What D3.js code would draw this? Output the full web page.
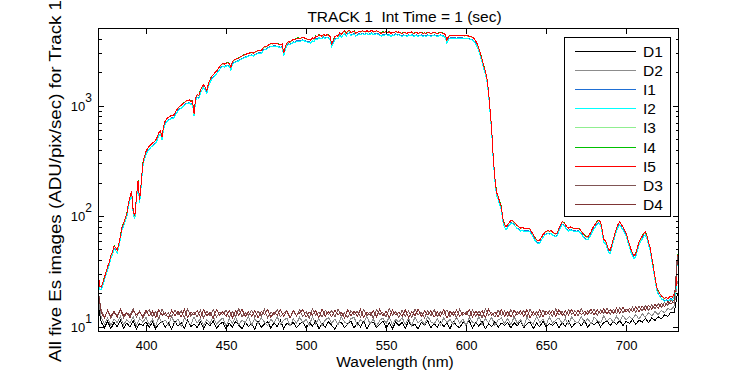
<!DOCTYPE html>
<html><head><meta charset="utf-8">
<script src="https://cdn.jsdelivr.net/npm/d3@7"></script>
<style>
html,body{margin:0;padding:0;background:#fff;}
svg{display:block;font-family:"Liberation Sans",Arial,Helvetica,sans-serif;}
</style></head>
<body><svg id="chart" width="750" height="375"></svg>
<script>
// ---------------- DATA ----------------
const seriesNames = ["D1","D2","I1","I2","I3","I4","I5","D3","D4"];
const xTicks = [400,450,500,550,600,650,700];
const yDecades = [1,2,3];           // 10^1, 10^2, 10^3

// irradiance spectrum (ADU/pix/sec), 1 nm steps from 370 nm
const spectrumStart = 370, spectrumStep = 1;
const spectrumI5 = [
 34,23,23,25,28,31,35,38,44,47,                          // 370-379
 54,52,49,56,66,80,86,95,105,130,                        // 380-389
 150,168,112,100,150,210,140,200,300,345,                // 390-399
 385,410,430,445,460,470,485,520,570,590,                // 400-409
 520,650,730,760,785,800,820,815,850,910,                // 410-419
 950,985,1010,1040,1070,1100,1110,1130,1090,1110,        // 420-429
 850,1180,1260,1230,1380,1470,1550,1470,1370,1580,       // 430-439
 1720,1840,1900,1980,2050,2150,2250,2350,2400,2380,      // 440-449
 2420,2450,2400,2230,2500,2580,2620,2680,2700,2760,      // 450-459
 2820,2870,2900,2940,2980,3000,3040,2980,3050,3100,      // 460-469
 3150,3180,3150,3300,3420,3400,3500,3580,3650,3620,      // 470-479
 3680,3650,3640,3600,3560,3620,3000,3400,3650,3800,      // 480-489
 3750,3880,3980,3950,4050,4100,4050,4100,4150,4090,      // 490-499
 4050,3950,4000,3900,4100,4000,4250,4200,4380,4300,      // 500-509
 4250,4420,4300,4380,4350,4200,3640,3900,4200,4300,      // 510-519
 4250,4580,4400,4600,4750,4500,4700,4800,4600,4650,      // 520-529
 4750,4500,4600,4700,4650,4750,4700,4650,4780,4650,      // 530-539
 4700,4800,4650,4700,4750,4700,4600,4500,4650,4600,      // 540-549
 4700,4600,4650,4500,4600,4550,4700,4600,4650,4550,      // 550-559
 4500,4600,4550,4500,4600,4550,4650,4500,4550,4600,      // 560-569
 4500,4550,4600,4500,4550,4500,4600,4550,4500,4550,      // 570-579
 4600,4550,4500,4550,4600,4550,4500,4400,3880,4250,      // 580-589
 4300,4350,4300,4350,4300,4350,4300,4350,4300,4280,      // 590-599
 4300,4280,4250,4200,4150,4050,3850,3600,3250,2950,      // 600-609
 2600,2300,2050,1750,1350,900,600,330,220,165,           // 610-619
 150,135,122,95,84,80,84,88,92,91,                       // 620-629
 88,85,82,80,78,79,78,78,77,78,                          // 630-639
 76,72,68,64,61,60,61,64,68,71,                          // 640-649
 73,74,73,74,72,70,69,71,78,84,                          // 650-659
 89,88,84,80,78,80,79,78,78,77,                          // 660-669
 78,76,73,70,67,65,65,68,72,78,                          // 670-679
 82,86,90,92,88,75,62,60,55,50,                          // 680-689
 49,55,62,70,78,85,89,84,80,75,                          // 690-699
 70,62,56,50,46,44,46,52,58,62,                          // 700-709
 66,70,72,66,58,52,42,35,28,23,                          // 710-719
 21,20,19,18.5,18,18.5,18,18.5,19,18.5,                  // 720-729
 20,21,45                                                // 730-732
];
// the five illuminated images overlap; relative level of each vs I5
const illumLevel = {I1:0.95, I2:0.94, I3:0.995, I4:1.002, I5:1.0};

// dark images, 2 nm steps from 370 nm
const darkStart = 370, darkStep = 2;
const darkD1 = [
 16.0,11.0,9.8,11.2,9.6,10.9,10.0,11.4,9.7,10.8,9.9,11.3,9.5,10.7,10.2,11.1,
 9.8,11.0,9.6,10.6,11.3,9.9,10.8,9.5,11.2,10.1,10.9,9.7,11.4,10.0,10.6,9.8,
 11.1,9.6,10.9,10.2,11.3,9.7,10.5,11.0,9.5,10.8,9.9,11.2,10.3,9.6,11.0,10.1,
 10.7,9.5,11.3,9.9,10.6,11.1,9.7,10.9,10.0,11.4,9.6,10.8,10.2,11.0,9.8,10.6,
 11.2,9.7,10.9,10.1,11.3,9.6,10.7,9.9,11.1,10.3,9.5,10.8,11.0,9.8,10.6,11.3,
 9.7,10.9,10.0,11.2,9.6,10.7,11.0,9.9,10.5,11.3,9.8,10.8,9.6,11.1,10.2,10.9,
 9.7,11.2,10.1,10.6,9.5,11.0,10.3,11.3,9.8,10.7,9.9,11.1,10.0,10.8,9.6,11.2,
 10.2,9.8,11.0,10.5,11.3,9.7,10.9,10.1,11.2,9.6,10.6,10.0,11.1,9.9,10.8,10.3,
 11.0,9.7,10.9,10.2,11.3,9.8,10.6,11.1,9.6,10.8,10.0,11.2,9.9,10.7,10.3,11.0,
 9.8,10.9,10.1,11.3,9.9,10.7,11.0,10.2,11.4,9.9,10.8,10.4,11.2,10.0,10.9,11.3,
 10.3,11.1,10.5,11.4,10.2,11.2,10.7,11.6,10.5,11.5,11.0,11.9,10.9,12.0,11.4,12.3,
 11.8,12.8,12.4,13.6,13.4,20.0
];
const darkD2 = [
 18.0,12.2,10.6,12.0,10.3,11.8,10.9,12.4,10.4,11.6,10.8,12.3,10.2,11.9,11.0,12.1,
 10.5,11.7,10.1,12.2,10.9,11.5,10.3,12.4,10.7,11.8,10.0,12.0,11.1,10.4,12.3,10.8,
 11.9,10.2,11.6,10.7,12.5,10.5,11.3,12.0,10.1,11.8,10.8,12.2,10.4,11.5,10.9,12.4,
 10.3,11.9,10.6,12.1,11.0,10.2,11.7,10.8,12.3,10.5,11.4,12.0,10.1,11.8,10.7,12.2,
 10.9,11.6,10.3,12.4,10.6,11.9,10.2,11.5,12.1,10.8,11.7,10.4,12.3,11.0,10.5,11.8,
 12.2,10.3,11.6,10.9,12.4,10.6,11.8,10.1,11.4,12.0,10.7,12.3,10.4,11.7,11.0,12.1,
 10.5,11.9,10.2,12.2,10.8,11.5,10.4,12.4,11.1,10.6,11.8,10.3,12.0,10.9,11.6,10.5,
 12.3,10.8,11.7,10.2,12.1,11.0,10.6,12.4,10.4,11.8,10.9,12.2,10.3,11.5,12.0,10.7,
 11.9,10.5,12.3,10.8,11.6,10.1,12.1,11.2,10.6,12.4,10.9,11.7,10.4,12.2,10.8,11.5,
 12.0,10.7,11.8,10.5,12.3,11.1,10.8,12.4,10.9,11.9,10.6,12.2,11.3,10.9,12.5,11.2,
 12.0,11.0,12.4,11.3,12.6,11.5,12.3,11.8,12.9,11.7,13.1,12.2,13.4,12.5,13.7,12.9,
 14.0,13.4,14.6,14.2,15.4,26.0
];
const darkD3 = [
 22.0,14.0,12.2,13.9,12.0,13.6,12.5,14.3,12.1,13.4,12.7,14.5,12.3,13.8,12.0,13.5,
 14.2,12.4,13.7,11.9,14.4,12.6,13.3,12.2,14.1,12.8,13.9,12.1,14.5,12.5,13.6,12.3,
 14.0,12.0,13.8,12.6,14.4,12.2,13.5,12.9,14.2,12.1,13.7,12.4,14.6,12.3,13.4,12.7,
 14.1,12.2,13.9,12.5,14.3,12.0,13.6,12.8,14.4,12.3,13.2,14.0,12.1,13.8,12.6,14.2,
 12.4,13.7,12.0,14.5,12.7,13.5,12.2,14.1,12.9,13.9,12.3,14.4,12.5,13.3,12.1,14.0,
 12.8,13.8,12.2,14.3,12.6,13.6,12.0,14.2,12.9,13.4,12.3,14.5,12.7,13.7,12.1,14.1,
 12.5,13.9,12.2,14.4,12.8,13.5,12.0,14.0,12.6,14.3,12.4,13.6,12.9,14.2,12.3,13.8,
 12.1,14.4,12.7,13.7,12.3,14.1,12.5,13.9,12.0,14.5,12.8,13.4,12.2,14.2,12.6,13.8,
 12.4,14.3,12.1,13.6,12.9,14.0,12.3,14.4,12.6,13.7,12.2,14.2,12.8,13.9,12.4,14.5,
 12.7,13.8,12.3,14.3,12.9,14.0,12.5,14.6,12.8,13.9,13.1,14.4,12.7,14.2,13.2,14.7,
 13.0,14.3,13.2,14.8,13.4,14.5,13.6,15.0,13.5,15.2,13.9,15.5,14.1,15.8,14.5,16.2,
 14.9,16.6,15.6,17.3,16.5,44.0
];
const darkD4 = [
 21.0,13.5,12.0,14.1,12.4,13.7,12.2,14.4,12.6,13.3,12.1,14.0,12.8,13.6,12.3,14.2,
 12.5,13.8,12.1,14.3,12.7,13.4,12.0,14.1,12.6,13.7,12.3,14.4,12.2,13.5,12.9,14.0,
 12.2,14.2,12.6,13.5,12.0,14.3,12.8,13.7,12.4,14.1,12.1,13.9,12.7,14.4,12.3,13.6,
 12.5,14.0,12.1,13.8,12.9,14.3,12.2,13.5,12.7,14.2,12.4,13.9,12.0,14.1,12.6,13.4,
 14.3,12.2,13.6,12.8,14.0,12.1,14.4,12.5,13.7,12.3,14.1,12.9,13.5,12.0,14.2,12.6,
 13.9,12.4,14.3,12.1,13.6,12.7,14.0,12.3,14.4,12.5,13.8,12.2,14.1,12.8,13.5,12.4,
 14.2,12.1,13.7,12.6,14.4,12.3,13.9,12.8,14.0,12.2,13.6,12.5,14.3,12.0,13.8,12.7,
 14.1,12.4,13.5,12.9,14.3,12.2,13.8,12.6,14.0,12.1,14.4,12.7,13.6,12.3,14.2,12.5,
 13.7,12.2,14.1,12.8,13.9,12.4,14.3,12.0,13.6,12.6,14.2,12.3,13.8,12.9,14.0,12.5,
 14.3,12.6,13.9,12.8,14.4,12.5,14.1,12.9,13.8,13.0,14.5,12.8,14.2,13.1,14.6,13.0,
 14.3,13.2,14.7,13.3,14.9,13.6,14.6,13.8,15.1,13.7,15.4,14.2,15.6,14.4,16.0,14.7,
 16.3,15.3,16.9,16.0,17.6,40.0
];

// ---------------- STYLE ----------------
const seriesColors = {
  D1:"#000000", D2:"#8c8c8c", I1:"#1f6fd4", I2:"#00ffff", I3:"#90ee90",
  I4:"#00c000", I5:"#ff0000", D3:"#805555", D4:"#7f3535"
};

// ---------------- BUILD ----------------
const spectrumX = spectrumI5.map((_, i) => spectrumStart + i*spectrumStep);
const darkSeries = {D1:darkD1, D2:darkD2, D3:darkD3, D4:darkD4};

const seriesData = seriesNames.map(name => {
  if (name[0] === "D") {
    const arr = darkSeries[name];
    return {name, pts: arr.map((v,i) => [darkStart + i*darkStep, v])};
  }
  const g = illumLevel[name];
  return {name, pts: spectrumI5.map((v,i) => [spectrumX[i], v*g])};
});

const svg = d3.select("#chart");
const L = 98, R = 679, T = 28, B = 331;

const x = d3.scaleLinear().domain([370, 733]).range([L, R]);
const y = d3.scaleLog().domain([9.15, 5040]).range([B, T]);

svg.append("defs").append("clipPath").attr("id","clip")
  .append("rect").attr("x",L).attr("y",T).attr("width",R-L).attr("height",B-T);

const line = d3.line().x(d => x(d[0])).y(d => y(d[1]));

svg.append("g").attr("clip-path","url(#clip)")
  .selectAll("path").data(seriesData).join("path")
  .attr("d", d => line(d.pts))
  .attr("fill","none")
  .attr("stroke", d => seriesColors[d.name])
  .attr("stroke-width", 1)
  .attr("shape-rendering","crispEdges");

// axes (box with inward ticks on all sides)
const axG = svg.append("g").attr("shape-rendering","crispEdges");
const majorLen = 6, minorLen = 3.5;

const xBottom = d3.axisBottom(x).tickValues(xTicks).tickSize(-majorLen).tickPadding(10).tickFormat(d3.format("d"));
const xTop = d3.axisTop(x).tickValues(xTicks).tickSize(-majorLen).tickFormat("");
const gxb = axG.append("g").attr("transform",`translate(0,${B})`).call(xBottom);
axG.append("g").attr("transform",`translate(0,${T})`).call(xTop);

const majorY = yDecades.map(e => Math.pow(10,e));
const minorY = [];
yDecades.forEach(e => { for (let m=2;m<=9;m++){ const v=m*Math.pow(10,e); if (v<=y.domain()[1]) minorY.push(v);} });

const yLeft = d3.axisLeft(y).tickValues(majorY).tickSize(-majorLen).tickFormat("");
const yRight = d3.axisRight(y).tickValues(majorY).tickSize(-majorLen).tickFormat("");
const yLeftMin = d3.axisLeft(y).tickValues(minorY).tickSize(-minorLen).tickFormat("");
const yRightMin = d3.axisRight(y).tickValues(minorY).tickSize(-minorLen).tickFormat("");
axG.append("g").attr("transform",`translate(${L},0)`).call(yLeft);
axG.append("g").attr("transform",`translate(${R},0)`).call(yRight);
axG.append("g").attr("transform",`translate(${L},0)`).call(yLeftMin);
axG.append("g").attr("transform",`translate(${R},0)`).call(yRightMin);

axG.selectAll(".domain").remove();
axG.selectAll(".tick line").attr("stroke","#000");
gxb.selectAll(".tick text").attr("font-size",13).attr("fill","#000")
   .attr("font-family","'Liberation Sans',Arial,sans-serif");

// frame
axG.append("rect").attr("x",L+0.5).attr("y",T+0.5).attr("width",R-L-1).attr("height",B-T)
  .attr("fill","none").attr("stroke","#000").attr("stroke-width",1);

// y tick labels as 10^n
const ylab = svg.append("g");
majorY.forEach((v,i) => {
  const t = ylab.append("text").attr("x", L-6).attr("y", y(v)+5)
    .attr("text-anchor","end").attr("font-size",13).attr("fill","#000");
  t.append("tspan").text("10");
  t.append("tspan").attr("dy",-9).attr("font-size",12).text(String(yDecades[i]));
});

// titles
svg.append("text").attr("x",404.5).attr("y",22).attr("text-anchor","middle")
  .attr("font-size",15.5).attr("xml:space","preserve").style("white-space","pre")
  .text("TRACK 1  Int Time = 1 (sec)");
svg.append("text").attr("x",395).attr("y",367).attr("text-anchor","middle")
  .attr("font-size",15.5).text("Wavelength (nm)");
svg.append("text").attr("transform",`translate(61,${181}) rotate(-90)`)
  .attr("text-anchor","middle").attr("font-size",16)
  .attr("textLength",362).attr("lengthAdjust","spacingAndGlyphs")
  .text("All five Es images (ADU/pix/sec) for Track 1");

// legend
const lg = svg.append("g");
lg.append("rect").attr("x",564.5).attr("y",37.5).attr("width",106).attr("height",179)
  .attr("fill","#fff").attr("stroke","#000").attr("stroke-width",1).attr("shape-rendering","crispEdges");
seriesNames.forEach((n,i) => {
  const yy = Math.round(50.7 + i*19.17) + 0.5;
  lg.append("line").attr("x1",575).attr("x2",636).attr("y1",yy).attr("y2",yy)
    .attr("stroke",seriesColors[n]).attr("stroke-width",1).attr("shape-rendering","crispEdges");
  lg.append("text").attr("x",643).attr("y",yy+5.5).attr("font-size",15.5).text(n);
});
</script></body></html>
